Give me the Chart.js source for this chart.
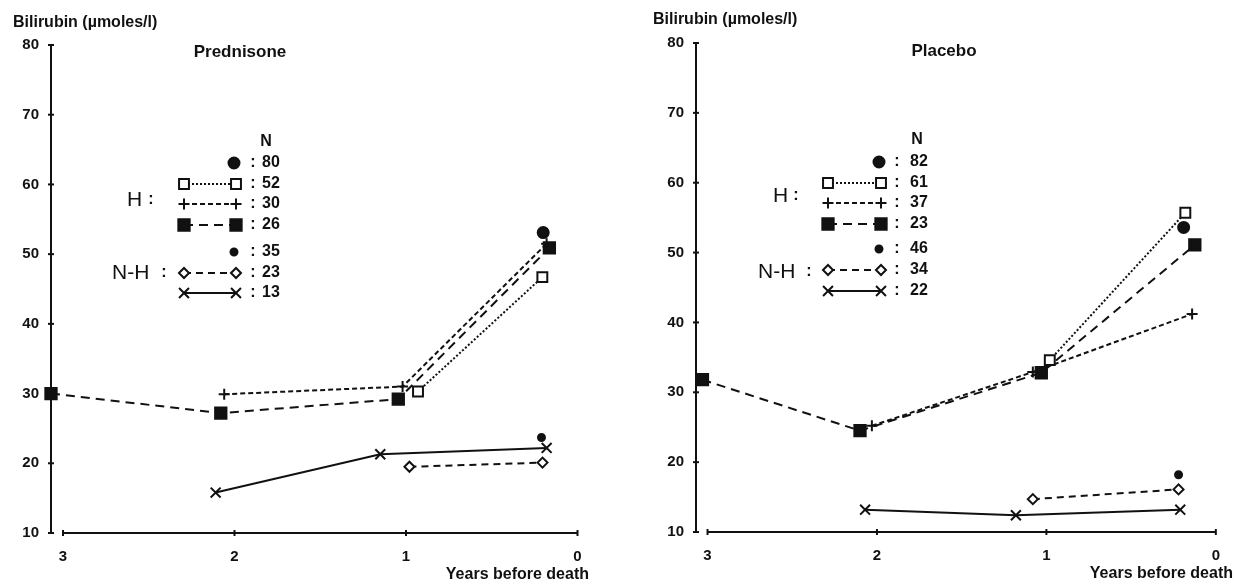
<!DOCTYPE html>
<html><head><meta charset="utf-8">
<script src="https://cdn.jsdelivr.net/npm/chart.js@4.4.0/dist/chart.umd.min.js"></script>
<style>
html,body{margin:0;padding:0;background:#fff;}
#wrap{position:relative;width:1235px;height:584px;background:#fff;}
canvas{position:absolute;left:0;top:0;}
</style></head><body>
<div id="wrap"><canvas id="c1" width="1235" height="584"></canvas><canvas id="c2" width="1235" height="584"></canvas></div>
<script>
// ---------- data ----------
const yTickValues = [10, 20, 30, 40, 50, 60, 70, 80];
const xTickValues = [3, 2, 1, 0];
const yAxisTitle = 'Bilirubin (µmoles/l)';
const xAxisTitle = 'Years before death';
const groupLabels = ['H', 'N-H'];

// Prednisone
const predTitle = 'Prednisone';
const predN = [80, 52, 30, 26, 35, 23, 13];
const predAllHX = [0.20], predAllHY = [53.1];
const predOpenSqX = [0.93, 0.205], predOpenSqY = [30.3, 46.7];
const predPlusX = [2.06, 1.02, 0.18], predPlusY = [29.9, 31.0, 51.5];
const predFillSqX = [3.07, 2.08, 1.045, 0.164], predFillSqY = [30.0, 27.2, 29.2, 50.9];
const predAllNHX = [0.21], predAllNHY = [23.7];
const predDiamX = [0.98, 0.204], predDiamY = [19.5, 20.1];
const predCrossX = [2.11, 1.15, 0.18], predCrossY = [15.8, 21.3, 22.2];

// Placebo
const placTitle = 'Placebo';
const placN = [82, 61, 37, 23, 46, 34, 22];
const placAllHX = [0.19], placAllHY = [53.6];
const placOpenSqX = [0.98, 0.18], placOpenSqY = [34.6, 55.7];
const placPlusX = [2.03, 1.08, 0.14], placPlusY = [25.2, 32.9, 41.2];
const placFillSqX = [3.03, 2.10, 1.03, 0.124], placFillSqY = [31.8, 24.5, 32.8, 51.1];
const placAllNHX = [0.22], placAllNHY = [18.2];
const placDiamX = [1.08, 0.22], placDiamY = [14.7, 16.1];
const placCrossX = [2.07, 1.18, 0.21], placCrossY = [13.2, 12.4, 13.2];

// ---------- styles ----------
const INK = '#111';
const FONT = '"Liberation Sans", Arial, Helvetica, sans-serif';
const seriesStyles = [
  {pointStyle: 'circle', radius: 5.5, fill: INK, dash: [], showLine: false, single: true},
  {pointStyle: 'rect', radius: 7, fill: '#fff', dash: [2, 2], showLine: true},
  {pointStyle: 'cross', radius: 5.5, fill: INK, dash: [5, 3], showLine: true},
  {pointStyle: 'rect', radius: 8, fill: INK, dash: [9, 6], showLine: true},
  {pointStyle: 'circle', radius: 3.5, fill: INK, dash: [], showLine: false, single: true},
  {pointStyle: 'rectRot', radius: 5, fill: '#fff', dash: [7, 5], showLine: true},
  {pointStyle: 'crossRot', radius: 7, fill: INK, dash: [], showLine: true}
];

function pts(xs, ys) { return xs.map((v, i) => ({x: v, y: ys[i]})); }

function makeDatasets(series) {
  return series.map((s, i) => {
    const st = seriesStyles[i];
    return {
      data: pts(s[0], s[1]),
      showLine: st.showLine,
      borderColor: INK,
      borderWidth: 2,
      borderDash: st.dash,
      backgroundColor: st.fill,
      pointStyle: st.pointStyle,
      pointRadius: st.radius,
      pointHoverRadius: st.radius,
      pointBackgroundColor: st.fill,
      pointBorderColor: INK,
      pointBorderWidth: 2,
      tension: 0,
      fill: false,
      clip: false
    };
  });
}

function drawMarker(ctx, st, x, y) {
  ctx.save();
  ctx.setLineDash([]);
  ctx.fillStyle = st.fill;
  ctx.strokeStyle = INK;
  ctx.lineWidth = 2;
  Chart.helpers.drawPoint(ctx, {pointStyle: st.pointStyle, radius: st.radius, rotation: 0, borderWidth: 2}, x, y);
  ctx.restore();
}

function overlayPlugin(L, title, nVals) {
  return {
    id: 'overlay',
    afterDraw(chart) {
      const ctx = chart.ctx, xs = chart.scales.x, ys = chart.scales.y, ca = chart.chartArea;
      ctx.save();
      ctx.strokeStyle = INK; ctx.fillStyle = INK; ctx.lineWidth = 2; ctx.setLineDash([]);
      const yb = ca.bottom, ax = ca.left;
      // x axis line
      ctx.beginPath(); ctx.moveTo(xs.getPixelForValue(3), yb); ctx.lineTo(xs.getPixelForValue(0), yb); ctx.stroke();
      // tick marks
      xTickValues.forEach(v => { const p = xs.getPixelForValue(v); ctx.beginPath(); ctx.moveTo(p, yb - 3); ctx.lineTo(p, yb + 3); ctx.stroke(); });
      yTickValues.forEach(v => { const p = ys.getPixelForValue(v); ctx.beginPath(); ctx.moveTo(ax - 3, p); ctx.lineTo(ax + 3, p); ctx.stroke(); });
      // titles
      ctx.textBaseline = 'middle';
      ctx.font = 'bold 16px ' + FONT; ctx.textAlign = 'left';
      ctx.fillText(yAxisTitle, L.yTitleX, L.yTitleY);
      ctx.textAlign = 'right';
      ctx.fillText(xAxisTitle, L.xTitleRight, L.xTitleY);
      ctx.font = 'bold 17px ' + FONT; ctx.textAlign = 'center';
      ctx.fillText(title, L.titleX, L.titleY);
      // legend
      ctx.font = 'bold 16px ' + FONT; ctx.textAlign = 'center';
      ctx.fillText('N', L.nX, L.nY);
      L.rowsY.forEach((ry, i) => {
        const st = seriesStyles[i];
        if (st.single) {
          drawMarker(ctx, st, L.sx2 - 2, ry);
        } else {
          ctx.save(); ctx.setLineDash(st.dash); ctx.lineWidth = 2; ctx.strokeStyle = INK;
          ctx.beginPath(); ctx.moveTo(L.sx1, ry); ctx.lineTo(L.sx2, ry); ctx.stroke(); ctx.restore();
          drawMarker(ctx, st, L.sx1, ry);
          drawMarker(ctx, st, L.sx2, ry);
        }
        ctx.fillStyle = INK;
        ctx.font = 'bold 16px ' + FONT; ctx.textAlign = 'center';
        ctx.fillText(':', L.colonX, ry);
        ctx.textAlign = 'left';
        ctx.fillText(String(nVals[i]), L.numX, ry);
      });
      ctx.font = '21px ' + FONT; ctx.textAlign = 'left';
      ctx.fillText(groupLabels[0], L.hX, L.hY);
      ctx.fillText(groupLabels[1], L.nhX, L.nhY);
      ctx.font = 'bold 16px ' + FONT; ctx.textAlign = 'center';
      ctx.fillText(':', L.hColonX, L.hY);
      ctx.fillText(':', L.nhColonX, L.nhY);
      ctx.restore();
    }
  };
}

function makeChart(id, series, title, nVals, L) {
  const yW = 40, xH = 40;
  return new Chart(document.getElementById(id), {
    type: 'line',
    data: {datasets: makeDatasets(series)},
    options: {
      responsive: false, animation: false, devicePixelRatio: 1,
      layout: {padding: {left: L.left - yW, right: 1235 - L.right, top: L.top, bottom: 584 - L.bottom - xH}},
      plugins: {legend: {display: false}, tooltip: {enabled: false}},
      scales: {
        x: {
          type: 'linear', reverse: true, min: 0, max: L.xMax,
          afterFit: s => { s.height = xH; },
          afterBuildTicks: s => { s.ticks = xTickValues.map(v => ({value: v})); },
          grid: {display: false, drawTicks: false},
          border: {display: false},
          ticks: {color: INK, font: {family: FONT, size: 15, weight: 'bold'}, padding: 15, maxRotation: 0, autoSkip: false, callback: v => String(v)}
        },
        y: {
          type: 'linear', min: 10, max: 80,
          afterFit: s => { s.width = yW; },
          afterBuildTicks: s => { s.ticks = yTickValues.map(v => ({value: v})); },
          grid: {display: false, drawTicks: false},
          border: {display: true, color: INK, width: 2},
          ticks: {color: INK, font: {family: FONT, size: 15, weight: 'bold'}, padding: 12, callback: v => String(v)}
        }
      }
    },
    plugins: [overlayPlugin(L, title, nVals)]
  });
}

const predLayout = {left: 51, right: 577.5, top: 45, bottom: 533, xMax: 3.07,
  nX: 266, nY: 142, rowsY: [163, 184, 204, 225, 252, 273, 293], sx1: 184, sx2: 236, colonX: 253, numX: 262,
  hX: 127, hColonX: 151, hY: 200, nhX: 112, nhColonX: 164, nhY: 273,
  titleX: 240, titleY: 52, yTitleX: 13, yTitleY: 23, xTitleRight: 589, xTitleY: 575};
const placLayout = {left: 696, right: 1224, top: 43, bottom: 532, xMax: 3.068,
  nX: 917, nY: 140, rowsY: [162, 183, 203, 224, 249, 270, 291], sx1: 828, sx2: 881, colonX: 897, numX: 910,
  hX: 773, hColonX: 796, hY: 196, nhX: 758, nhColonX: 809, nhY: 272,
  titleX: 944, titleY: 51, yTitleX: 653, yTitleY: 20, xTitleRight: 1233, xTitleY: 574};

makeChart('c1', [[predAllHX, predAllHY], [predOpenSqX, predOpenSqY], [predPlusX, predPlusY], [predFillSqX, predFillSqY],
  [predAllNHX, predAllNHY], [predDiamX, predDiamY], [predCrossX, predCrossY]], predTitle, predN, predLayout);
makeChart('c2', [[placAllHX, placAllHY], [placOpenSqX, placOpenSqY], [placPlusX, placPlusY], [placFillSqX, placFillSqY],
  [placAllNHX, placAllNHY], [placDiamX, placDiamY], [placCrossX, placCrossY]], placTitle, placN, placLayout);
</script>
</body></html>
